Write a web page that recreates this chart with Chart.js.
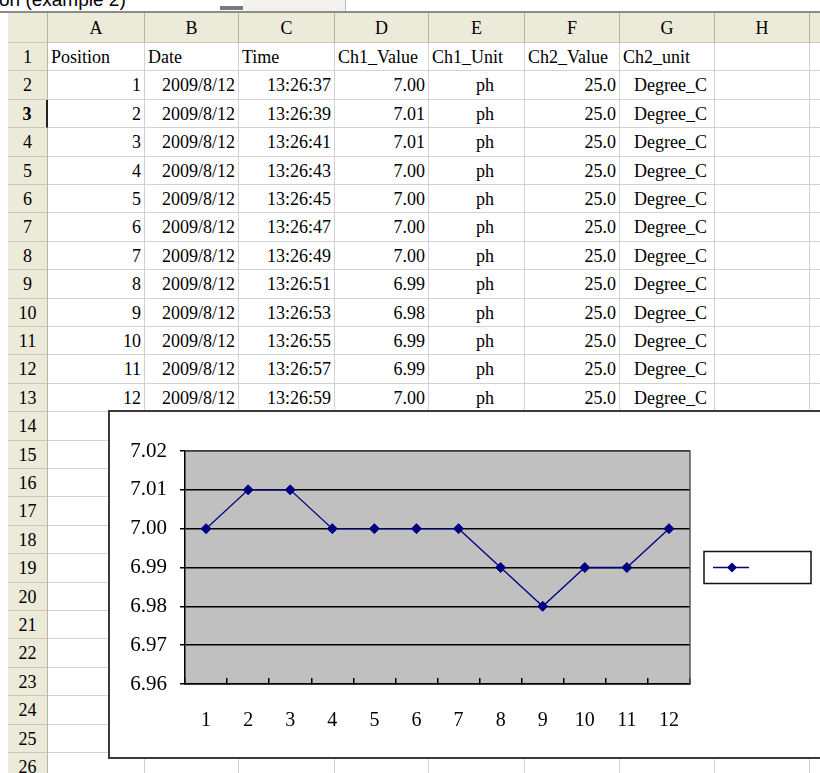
<!DOCTYPE html>
<html>
<head>
<meta charset="utf-8">
<script src="https://cdn.jsdelivr.net/npm/chart.js@4.4.1/dist/chart.umd.min.js"></script>
<style>
  html, body { margin: 0; padding: 0; background: #fff; }
  body { width: 820px; height: 773px; overflow: hidden; position: relative; font-family: "Liberation Serif", serif; }
  .cell { position: absolute; box-sizing: border-box; border-right: 1px solid #d2d2d2; border-bottom: 1px solid #d2d2d2;
          font-size: 18px; white-space: nowrap; overflow: hidden; padding: 0 3px; color: #000; }
  .hdr { background: #ecead9; border-right: 1px solid #b5b2a2; border-bottom: 1px solid #c9c6b6; text-align: center; padding: 0; }
  #caption { position: absolute; left: -1px; top: -10px; font: 19px "Liberation Sans", Arial, sans-serif; line-height: 20px; }
  #chartBox { position: absolute; left: 108px; top: 410px; width: 740px; height: 349px; box-sizing: border-box;
              border: 2px solid #3a3a3a; background: #fff; }
  #chartBox canvas { position: absolute; left: 0; top: 0; }
</style>
</head>
<body>
<div id="caption">on (example 2)</div>
<div style="position:absolute;left:220px;top:6px;width:23px;height:4px;background:#7a7a7a;"></div>
<div style="position:absolute;left:243px;top:0;width:102px;height:11px;background:#f3f2ec;border-right:1px solid #bdbdbd;"></div>
<div id="sheet"></div>
<div style="position:absolute;left:0;top:11px;width:820px;height:2px;background:#8c8c8c;"></div>
<div id="chartBox"><canvas id="phChart" width="710" height="345"></canvas></div>

<script>
// sheet content
var colLetters = ['A', 'B', 'C', 'D', 'E', 'F', 'G', 'H', ''];
var headers = ['Position', 'Date', 'Time', 'Ch1_Value', 'Ch1_Unit', 'Ch2_Value', 'Ch2_unit'];
var positions = [1, 2, 3, 4, 5, 6, 7, 8, 9, 10, 11, 12];
var dates = ['2009/8/12', '2009/8/12', '2009/8/12', '2009/8/12', '2009/8/12', '2009/8/12',
             '2009/8/12', '2009/8/12', '2009/8/12', '2009/8/12', '2009/8/12', '2009/8/12'];
var times = ['13:26:37', '13:26:39', '13:26:41', '13:26:43', '13:26:45', '13:26:47',
             '13:26:49', '13:26:51', '13:26:53', '13:26:55', '13:26:57', '13:26:59'];
var ch1Values = [7.00, 7.01, 7.01, 7.00, 7.00, 7.00, 7.00, 6.99, 6.98, 6.99, 6.99, 7.00];
var ch1Units = ['ph', 'ph', 'ph', 'ph', 'ph', 'ph', 'ph', 'ph', 'ph', 'ph', 'ph', 'ph'];
var ch2Values = [25.0, 25.0, 25.0, 25.0, 25.0, 25.0, 25.0, 25.0, 25.0, 25.0, 25.0, 25.0];
var ch2Units = ['Degree_C', 'Degree_C', 'Degree_C', 'Degree_C', 'Degree_C', 'Degree_C',
                'Degree_C', 'Degree_C', 'Degree_C', 'Degree_C', 'Degree_C', 'Degree_C'];

// chart axis
var seriesName = '';
var yMin = 6.96, yMax = 7.02, yStep = 0.01;

// sheet geometry
var colEdges = [8, 48, 145, 239, 335, 429, 525, 620, 715, 810, 905];
var headerTop = 13, rowTop = 43, rowH = 28.4, rowCount = 26;
var activeRow = 3;

var sheet = document.getElementById('sheet');

function addCell(left, y, width, height, text, cls, style) {
  var d = document.createElement('div');
  d.className = cls;
  d.style.left = left + 'px';
  d.style.top = y + 'px';
  d.style.width = width + 'px';
  d.style.height = height + 'px';
  d.style.lineHeight = height + 'px';
  if (style) for (var k in style) d.style[k] = style[k];
  d.textContent = text;
  sheet.appendChild(d);
  return d;
}

// column header row
addCell(colEdges[0], headerTop, colEdges[1] - colEdges[0], rowTop - headerTop, '', 'cell hdr');
for (var c = 1; c < colEdges.length - 1; c++) {
  addCell(colEdges[c], headerTop, colEdges[c + 1] - colEdges[c], rowTop - headerTop, colLetters[c - 1], 'cell hdr');
}

var columns = [positions, dates, times, ch1Values, ch1Units, ch2Values, ch2Units];
var aligns = ['right', 'right', 'right', 'right', 'center', 'right', 'center'];
var padLeft = [0, 0, 0, 0, 20, 0, 10];

for (var r = 1; r <= rowCount; r++) {
  var rowY = rowTop + (r - 1) * rowH;
  var hs = { fontSize: '18px' };
  if (r === activeRow) { hs.fontWeight = 'bold'; hs.borderRight = '2px solid #222'; }
  addCell(colEdges[0], rowY, colEdges[1] - colEdges[0], rowH, String(r), 'cell hdr', hs);
  for (var c = 1; c < colEdges.length - 1; c++) {
    var txt = '', st = {};
    var ci = c - 1;
    if (ci < headers.length) {
      if (r === 1) {
        txt = headers[ci];
        st.textAlign = 'left';
      } else if (r - 2 < positions.length) {
        var v = columns[ci][r - 2];
        if (ci === 3) v = v.toFixed(2);
        if (ci === 5) v = v.toFixed(1);
        txt = String(v);
        st.textAlign = aligns[ci];
        if (padLeft[ci]) st.paddingLeft = padLeft[ci] + 'px';
      }
    }
    addCell(colEdges[c], rowY, colEdges[c + 1] - colEdges[c], rowH, txt, 'cell', st);
  }
}

// plot background, right border and the boxed legend
var excelPlot = {
  id: 'excelPlot',
  beforeDraw: function(chart) {
    var a = chart.chartArea, ctx = chart.ctx;
    ctx.save();
    ctx.fillStyle = '#c0c0c0';
    ctx.fillRect(a.left, a.top, a.right - a.left, a.bottom - a.top);
    ctx.restore();
  },
  afterDraw: function(chart) {
    var a = chart.chartArea, ctx = chart.ctx;
    var ds = chart.data.datasets[0];
    ctx.save();
    ctx.strokeStyle = '#555';
    ctx.lineWidth = 1.5;
    ctx.beginPath();
    ctx.moveTo(a.left, a.top);
    ctx.lineTo(a.right, a.top);
    ctx.lineTo(a.right, a.bottom);
    ctx.stroke();

    // legend box
    var bx = a.right + 14, bw = 107, bh = 32;
    var by = (a.top + a.bottom) / 2 - bh / 2;
    ctx.fillStyle = '#fff';
    ctx.fillRect(bx, by, bw, bh);
    ctx.strokeStyle = '#111';
    ctx.lineWidth = 1.5;
    ctx.strokeRect(bx, by, bw, bh);
    var ly = by + bh / 2;
    ctx.strokeStyle = ds.borderColor;
    ctx.lineWidth = 1.5;
    ctx.beginPath();
    ctx.moveTo(bx + 9, ly);
    ctx.lineTo(bx + 45, ly);
    ctx.stroke();
    var mx = bx + 28, rad = 5;
    ctx.fillStyle = ds.pointBackgroundColor;
    ctx.beginPath();
    ctx.moveTo(mx, ly - rad);
    ctx.lineTo(mx + rad, ly);
    ctx.lineTo(mx, ly + rad);
    ctx.lineTo(mx - rad, ly);
    ctx.closePath();
    ctx.fill();
    if (seriesName) {
      ctx.fillStyle = '#000';
      ctx.font = '18px "Liberation Serif"';
      ctx.textBaseline = 'middle';
      ctx.fillText(seriesName, bx + 52, ly);
    }
    ctx.restore();
  }
};

var labelFont = { family: '"Liberation Serif", serif', size: 20 };

new Chart(document.getElementById('phChart'), {
  type: 'line',
  data: {
    labels: positions.map(function(p) { return String(p); }),
    datasets: [{
      label: seriesName,
      data: ch1Values,
      borderColor: '#000080',
      borderWidth: 1.3,
      pointStyle: 'rectRot',
      pointRadius: 5,
      pointBackgroundColor: '#000080',
      pointBorderColor: '#000080',
      pointBorderWidth: 1,
      tension: 0,
      fill: false
    }]
  },
  options: {
    responsive: false,
    animation: false,
    layout: { padding: { top: 39, right: 130, bottom: 0, left: 0 } },
    plugins: { legend: { display: false }, tooltip: { enabled: false } },
    scales: {
      x: {
        type: 'category',
        offset: true,
        grid: { display: true, drawOnChartArea: false, drawTicks: true, tickLength: -6, offset: true, color: '#000', lineWidth: 1.5 },
        border: { display: true, color: '#000', width: 1.5 },
        ticks: { color: '#000', font: labelFont, padding: 31, maxRotation: 0, autoSkip: false },
        afterFit: function(s) { s.height = 73; }
      },
      y: {
        min: yMin,
        max: yMax,
        grid: { color: '#000', lineWidth: 1.5, drawTicks: true, tickLength: 5 },
        border: { display: true, color: '#000', width: 1.5 },
        ticks: {
          stepSize: yStep,
          color: '#000',
          font: { family: '"Liberation Serif", serif', size: 21 },
          padding: 13,
          callback: function(v) { return Number(v).toFixed(2); }
        },
        afterFit: function(s) { s.width = 75; }
      }
    }
  },
  plugins: [excelPlot]
});
</script>
</body>
</html>
